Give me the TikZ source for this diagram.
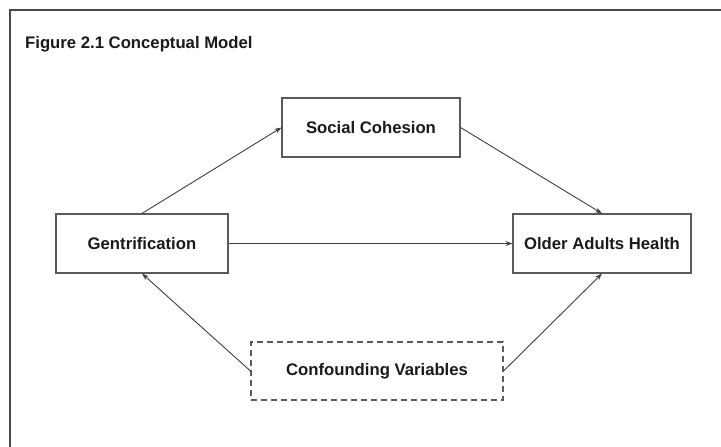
\documentclass[tikz,border=0pt]{standalone}
\usepackage{fontspec}
\setmainfont{Liberation Sans}
\usetikzlibrary{arrows.meta}
\definecolor{frameclr}{HTML}{4A4A4A}
\definecolor{boxclr}{HTML}{5A5A5A}
\definecolor{lineclr}{HTML}{404040}
\definecolor{txtclr}{HTML}{1A1A1A}
\tikzset{
  conbox/.style={draw=boxclr, line width=1.1pt, fill=white, minimum height=59pt,
    inner sep=0pt, font=\fontsize{16.7}{19}\selectfont\bfseries, text=txtclr},
  conlink/.style={draw=lineclr, line width=0.9pt, -{Stealth[length=7pt,width=5pt]}},
}
\begin{document}
\begin{tikzpicture}[x=1pt,y=-1pt]
\useasboundingbox (0,0) rectangle (721,447);
\clip (0,0) rectangle (721,447);
\fill[white] (0,0) rectangle (721,447);
\draw[frameclr, line width=1.3pt] (10,460) -- (10,10) -- (740,10);
\node[anchor=base west, font=\fontsize{16.7}{19}\selectfont\bfseries, text=txtclr, inner sep=0pt] (title) at (25,48) {Figure 2.1 Conceptual Model};
\node[conbox, minimum width=172pt] (gen) at (142,243.5) {Gentrification};
\node[conbox, minimum width=178pt] (old) at (602,243.5) {Older Adults Health};
\node[conbox, minimum width=178pt] (soc) at (371,127.5) {Social Cohesion};
\node[conbox, minimum width=252pt, minimum height=58pt, dash pattern=on 6pt off 4pt] (conf) at (377,371) {Confounding Variables};
\draw[conlink] (gen.north) -- (soc.west);
\draw[conlink] (soc.east) -- (old.north);
\draw[conlink] (gen.east) -- (old.west);
\draw[conlink] (conf.west) -- (gen.south);
\draw[conlink] (conf.east) -- (old.south);
\end{tikzpicture}
\end{document}
